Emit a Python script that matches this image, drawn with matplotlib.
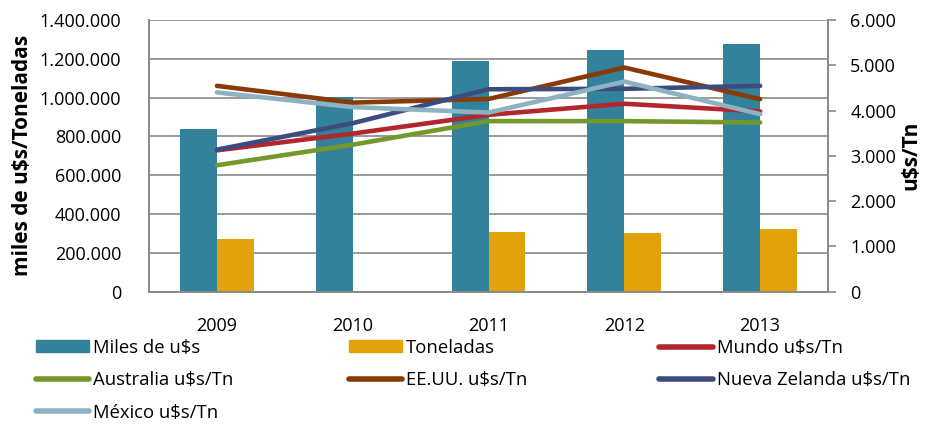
import matplotlib
matplotlib.use("Agg")
import matplotlib.pyplot as plt
from matplotlib.ticker import FuncFormatter
from matplotlib.lines import Line2D
from matplotlib.patches import Patch
import numpy as np

plt.rcParams["font.family"] = ["Open Sans", "DejaVu Sans"]

years = ["2009", "2010", "2011", "2012", "2013"]
miles_usd = [839000, 1002000, 1189000, 1244000, 1275000]
toneladas = [271000, np.nan, 305000, 302000, 323000]

mundo = [3120, 3490, 3905, 4150, 3980]
australia = [2790, 3245, 3765, 3765, 3735]
eeuu = [4545, 4175, 4255, 4950, 4250]
nueva_zelanda = [3135, 3720, 4470, 4480, 4545]
mexico = [4400, 4075, 3955, 4640, 3920]

line_series = [
    ("Mundo u$s/Tn", mundo, "#B3262B"),
    ("Australia u$s/Tn", australia, "#74982C"),
    ("EE.UU. u$s/Tn", eeuu, "#8A3A06"),
    ("Nueva Zelanda u$s/Tn", nueva_zelanda, "#3D4C7E"),
    ("México u$s/Tn", mexico, "#8DB3C2"),
]

teal = "#31829A"
gold = "#E1A309"
grid_gray = "#898989"


def dots(v, pos=None):
    return f"{v:,.0f}".replace(",", ".")


fig = plt.figure(figsize=(9.42, 4.25), dpi=100)
ax = fig.add_axes([0.1582, 0.3141, 0.7208, 0.6388])
ax2 = ax.twinx()

x = np.arange(len(years))
w = 0.272
ax.bar(x - w / 2, miles_usd, w, color=teal, linewidth=0, zorder=2)
ax.bar(x + w / 2, toneladas, w, color=gold, linewidth=0, zorder=2)

for name, vals, col in line_series:
    ax2.plot(x, vals, color=col, lw=3.3, solid_capstyle="round", solid_joinstyle="round")

ax.set_xlim(-0.5, len(years) - 0.5)
ax.set_ylim(0, 1400000)
ax.set_yticks(np.arange(0, 1400001, 200000))
ax.yaxis.set_major_formatter(FuncFormatter(dots))
ax.set_xticks(x)
ax.set_xticklabels(years)
ax.grid(axis="y", color=grid_gray, lw=1.2, zorder=0)
ax.set_axisbelow(True)

ax2.set_ylim(0, 6000)
ax2.set_yticks(np.arange(0, 6001, 1000))
ax2.yaxis.set_major_formatter(FuncFormatter(dots))

for a in (ax, ax2):
    a.spines["top"].set_visible(False)
    for s in ("left", "right", "bottom"):
        a.spines[s].set_color(grid_gray)
        a.spines[s].set_linewidth(1.2)

ax.tick_params(axis="y", length=0, pad=20, labelsize=13, colors="black")
ax.tick_params(axis="x", length=0, pad=18, labelsize=13)
ax2.tick_params(axis="y", length=6, width=1.2, color=grid_gray, pad=10, labelsize=13)

ax.set_ylabel("miles de u$s/Toneladas", fontsize=15, fontweight="bold", labelpad=5)
ax2.set_ylabel("u$s/Tn", fontsize=15, fontweight="bold", labelpad=3)

# legend laid out row by row like the original, one legend per column
bar_h = [Patch(color=teal), Patch(color=gold)]
line_h = [Line2D([], [], color=c, lw=4, solid_capstyle="round") for _, _, c in line_series]
labels = ["Miles de u$s", "Toneladas"] + [n for n, _, _ in line_series]
handles = bar_h + line_h
cols = [[0, 3, 6], [1, 4], [2, 5]]
col_x = [0.038, 0.370, 0.700]
for cx, idx in zip(col_x, cols):
    fig.legend([handles[i] for i in idx], [labels[i] for i in idx],
               loc="upper left", bbox_to_anchor=(cx, 0.203), frameon=False,
               fontsize=13.3, handlelength=2.9, handleheight=0.6,
               handletextpad=0.2, labelspacing=0.78, borderaxespad=0,
               borderpad=0)

fig.savefig("out.png", dpi=100)
